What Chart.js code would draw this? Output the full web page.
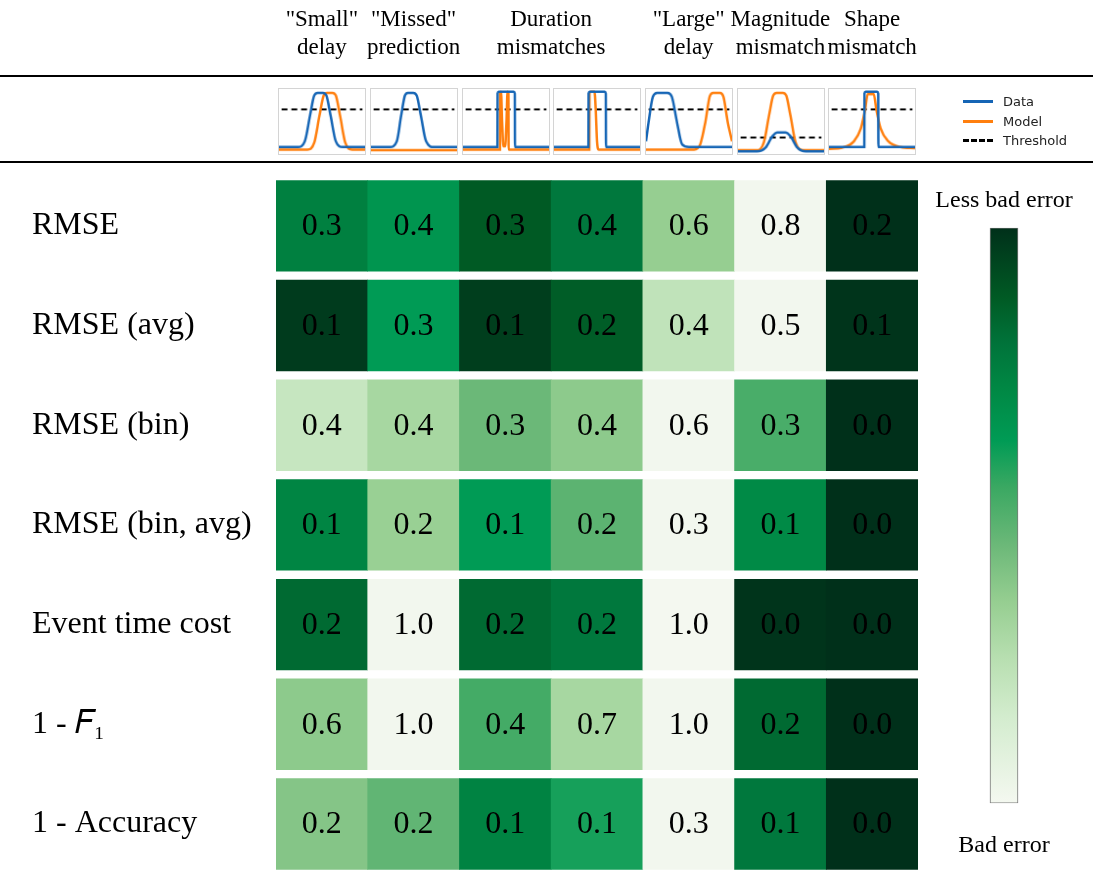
<!DOCTYPE html>
<html>
<head>
<meta charset="utf-8">
<script src="https://cdn.jsdelivr.net/npm/chart.js@4/dist/chart.umd.min.js"></script>
<style>
  body { margin: 0; background: #fff; }
  #wrap { position: relative; width: 1093px; height: 874px; overflow: hidden; }
  canvas { position: absolute; }
  .rule { position: absolute; left: 0; width: 1093px; background: #000; }
  .thumb { border: 1px solid #d4d4d4; box-sizing: border-box; }
  #legend { position: absolute; left: 963px; top: 92px; font: 13px "DejaVu Sans", sans-serif; color: #222; }
  #legend div { height: 19.5px; display: flex; align-items: center; }
  #legend span.line { display: inline-block; width: 30px; margin-right: 10px; }
</style>
</head>
<body>
<div id="wrap">
  <canvas id="heat" width="1093" height="896" style="left:0;top:0"></canvas>
  <div class="rule" style="top:75px;height:2px"></div>
  <div class="rule" style="top:161px;height:2px"></div>
  <div id="thumbs"></div>
  <div id="legend">
    <div><span class="line" style="border-top:3px solid #1565b5"></span>Data</div>
    <div><span class="line" style="border-top:3px solid #ff7f0e"></span>Model</div>
    <div><span class="line" style="border-top:3px dashed #000"></span>Threshold</div>
  </div>
  <canvas id="cbar" width="160" height="694" style="left:924px;top:180px"></canvas>
</div>
<script>
// error types (columns); "Duration mismatches" covers two columns
const errorTypes = ['Small delay', 'Missed prediction', 'Duration mismatch A', 'Duration mismatch B', 'Large delay', 'Magnitude mismatch', 'Shape mismatch'];
// header slots on half-column steps: slot 2c+1 is the centre of column c
const headerSlots = [
    '', ['"Small"', 'delay'], '', ['"Missed"', 'prediction'], '', '',
    ['Duration', 'mismatches'], '', '', ['"Large"', 'delay'], '',
    ['Magnitude', 'mismatch'], '', ['Shape', 'mismatch'], ''
];
const metrics = ['RMSE', 'RMSE (avg)', 'RMSE (bin)', 'RMSE (bin, avg)', 'Event time cost', '1 - \u{1D439}\u2081', '1 - Accuracy'];

// printed values per metric row
const rmse        = [0.3, 0.4, 0.3, 0.4, 0.6, 0.8, 0.2];
const rmseAvg     = [0.1, 0.3, 0.1, 0.2, 0.4, 0.5, 0.1];
const rmseBin     = [0.4, 0.4, 0.3, 0.4, 0.6, 0.3, 0.0];
const rmseBinAvg  = [0.1, 0.2, 0.1, 0.2, 0.3, 0.1, 0.0];
const eventCost   = [0.2, 1.0, 0.2, 0.2, 1.0, 0.0, 0.0];
const oneMinusF1  = [0.6, 1.0, 0.4, 0.7, 1.0, 0.2, 0.0];
const oneMinusAcc = [0.2, 0.2, 0.1, 0.1, 0.3, 0.1, 0.0];
const values = [rmse, rmseAvg, rmseBin, rmseBinAvg, eventCost, oneMinusF1, oneMinusAcc];

// colour level per cell (0 = bad error, 1 = less bad error)
const rmseLvl        = [0.75, 0.66, 0.88, 0.78, 0.35, 0.01, 1.00];
const rmseAvgLvl     = [0.97, 0.63, 0.96, 0.87, 0.22, 0.01, 0.99];
const rmseBinLvl     = [0.20, 0.30, 0.45, 0.37, 0.01, 0.52, 1.00];
const rmseBinAvgLvl  = [0.73, 0.34, 0.63, 0.48, 0.01, 0.71, 1.00];
const eventCostLvl   = [0.83, 0.01, 0.83, 0.78, 0.00, 0.99, 1.00];
const oneMinusF1Lvl  = [0.37, 0.01, 0.53, 0.30, 0.01, 0.83, 1.00];
const oneMinusAccLvl = [0.39, 0.47, 0.74, 0.60, 0.01, 0.78, 1.00];
const levels = [rmseLvl, rmseAvgLvl, rmseBinLvl, rmseBinAvgLvl, eventCostLvl, oneMinusF1Lvl, oneMinusAccLvl];

// thumbnail curves: [x, y] pairs on a 0..10 by 0..1 box
const smallDelayData   = [[0,0.11],[2.2,0.11],[3.0,0.2],[3.6,0.6],[4.1,0.92],[4.5,0.96],[5.1,0.96],[5.5,0.92],[6.0,0.6],[6.6,0.2],[7.4,0.11],[10,0.11]];
const smallDelayModel  = [[0,0.07],[3.3,0.07],[4.1,0.18],[4.7,0.6],[5.2,0.92],[5.6,0.96],[6.2,0.96],[6.6,0.92],[7.1,0.6],[7.7,0.18],[8.5,0.07],[10,0.07]];
const missedData       = [[0,0.11],[2.2,0.11],[3.0,0.2],[3.5,0.6],[3.95,0.92],[4.3,0.96],[4.9,0.96],[5.3,0.92],[5.8,0.6],[6.4,0.2],[7.3,0.11],[10,0.11]];
const missedModel      = [[0,0.06],[10,0.06]];
const durationAData    = [[0,0.11],[4.0,0.11],[4.02,0.95],[4.15,0.98],[5.9,0.98],[6.02,0.95],[6.04,0.11],[10,0.11]];
const durationAModel   = [[0,0.07],[4.3,0.07],[4.32,0.95],[4.42,0.98],[4.55,0.5],[4.7,0.12],[4.9,0.12],[5.05,0.5],[5.18,0.98],[5.28,0.95],[5.3,0.07],[10,0.07]];
const durationBData    = [[0,0.11],[4.0,0.11],[4.02,0.95],[4.15,0.98],[5.9,0.98],[6.02,0.95],[6.04,0.11],[10,0.11]];
const durationBModel   = [[0,0.07],[4.1,0.07],[4.12,0.95],[4.25,0.98],[4.7,0.98],[4.85,0.7],[5.0,0.2],[5.2,0.07],[10,0.07]];
const largeDelayData   = [[0,0.2],[0.3,0.5],[0.8,0.9],[1.3,0.96],[2.5,0.96],[3.0,0.9],[3.6,0.5],[4.2,0.15],[5.0,0.11],[10,0.11]];
const largeDelayModel  = [[0,0.07],[5.6,0.07],[6.3,0.15],[6.9,0.5],[7.4,0.9],[7.8,0.96],[8.6,0.96],[9.0,0.9],[9.5,0.5],[10,0.2]];
const magnitudeData    = [[0,0.04],[2.2,0.04],[3.2,0.1],[4.0,0.28],[4.6,0.34],[5.5,0.34],[6.1,0.28],[6.9,0.1],[7.9,0.04],[10,0.04]];
const magnitudeModel   = [[0,0.06],[2.2,0.06],[3.0,0.18],[3.6,0.6],[4.1,0.92],[4.5,0.96],[5.2,0.96],[5.6,0.92],[6.1,0.6],[6.7,0.18],[7.6,0.06],[10,0.06]];
const shapeData        = [[0,0.11],[4.1,0.11],[4.12,0.95],[4.25,0.98],[5.6,0.98],[5.72,0.95],[5.74,0.11],[10,0.11]];
const shapeModel       = [[0,0.08],[1.5,0.1],[2.9,0.2],[3.7,0.4],[4.2,0.7],[4.5,0.94],[5.2,0.94],[5.5,0.7],[6.0,0.4],[6.9,0.2],[8.3,0.11],[10,0.09]];
const thumbData  = [smallDelayData, missedData, durationAData, durationBData, largeDelayData, magnitudeData, shapeData];
const thumbModel = [smallDelayModel, missedModel, durationAModel, durationBModel, largeDelayModel, magnitudeModel, shapeModel];
const thresholds = [0.7, 0.7, 0.7, 0.7, 0.7, 0.26, 0.7];

const serif = '"Liberation Serif", "Times New Roman", serif';

// light -> dark green colour map
const cmapStops = [
    [0.00, [244, 248, 240]], [0.15, [211, 236, 206]], [0.25, [184, 223, 177]],
    [0.35, [150, 206, 145]], [0.45, [107, 184, 120]], [0.55, [58, 168, 98]],
    [0.63, [0, 155, 85]], [0.72, [0, 136, 68]], [0.80, [0, 115, 58]],
    [0.88, [0, 90, 36]], [1.00, [0, 48, 26]]
];

function cmap(t) {
    for (let i = 1; i < cmapStops.length; i++) {
        const [t1, c1] = cmapStops[i];
        const [t0, c0] = cmapStops[i - 1];
        if (t <= t1) {
            const f = (t - t0) / (t1 - t0);
            const c = c0.map((v, k) => Math.round(v + (c1[k] - v) * f));
            return `rgb(${c[0]}, ${c[1]}, ${c[2]})`;
        }
    }
    const c = cmapStops[cmapStops.length - 1][1];
    return `rgb(${c[0]}, ${c[1]}, ${c[2]})`;
}

// write the value in each cell
const cellText = {
    id: 'cellText',
    afterDatasetsDraw(chart) {
        const ctx = chart.ctx;
        ctx.save();
        ctx.font = `32px ${serif}`;
        ctx.fillStyle = '#000';
        ctx.textAlign = 'center';
        ctx.textBaseline = 'middle';
        chart.data.datasets.forEach((ds, r) => {
            chart.getDatasetMeta(r).data.forEach((bar, c) => {
                ctx.fillText(values[r][c].toFixed(1), bar.x, (bar.y + bar.base) / 2 + 1);
            });
        });
        ctx.restore();
    }
};

new Chart(document.getElementById('heat'), {
    type: 'bar',
    data: {
        labels: errorTypes,
        datasets: metrics.map((m, r) => ({
            label: m,
            data: values[r].map(() => [r - 0.455, r + 0.455]),
            backgroundColor: levels[r].map(cmap),
            borderWidth: 0,
            grouped: false,
            barPercentage: 1,
            categoryPercentage: 1
        }))
    },
    options: {
        responsive: false,
        animation: false,
        layout: { padding: { left: 32, right: 175, top: 0, bottom: 0 } },
        plugins: { legend: { display: false }, tooltip: { enabled: false } },
        scales: {
            x: { display: false },
            head: {
                type: 'category',
                labels: headerSlots,
                offset: false,
                position: 'top',
                grid: { display: false },
                border: { display: false },
                afterFit(scale) { scale.height = 176; },
                ticks: {
                    color: '#000',
                    padding: 106,
                    maxRotation: 0,
                    autoSkip: false,
                    font: { family: serif, size: 23, lineHeight: 1.22 }
                }
            },
            y: {
                type: 'linear',
                reverse: true,
                min: -0.5,
                max: 6.5,
                grid: { display: false },
                border: { display: false },
                afterBuildTicks(scale) { scale.ticks = metrics.map((m, i) => ({ value: i })); },
                afterFit(scale) { scale.width = 244; },
                ticks: {
                    color: '#000',
                    crossAlign: 'far',
                    font: { family: serif, size: 32 },
                    callback: v => metrics[v]
                }
            }
        }
    },
    plugins: [cellText]
});

// thumbnails above each column
const thumbs = document.getElementById('thumbs');
const colCentres = [322, 414, 506, 597, 689, 781, 872];
colCentres.forEach((cx, i) => {
    const cv = document.createElement('canvas');
    cv.width = 88;
    cv.height = 67;
    cv.className = 'thumb';
    cv.style.left = (cx - 44) + 'px';
    cv.style.top = '88px';
    thumbs.appendChild(cv);
    const toPts = arr => arr.map(([x, y]) => ({ x, y }));
    new Chart(cv, {
        type: 'line',
        data: {
            datasets: [
                { label: 'Data', data: toPts(thumbData[i]), borderColor: '#1565b5', borderWidth: 2.5 },
                { label: 'Model', data: toPts(thumbModel[i]), borderColor: '#ff7f0e', borderWidth: 2.5 },
                { label: 'Threshold', data: [{ x: 0.3, y: thresholds[i] }, { x: 9.7, y: thresholds[i] }],
                  borderColor: '#000', borderWidth: 2, borderDash: [6, 4], tension: 0 }
            ]
        },
        options: {
            responsive: false,
            animation: false,
            layout: { padding: 0 },
            elements: { point: { radius: 0 }, line: { tension: 0.35, cubicInterpolationMode: 'monotone' } },
            plugins: { legend: { display: false }, tooltip: { enabled: false } },
            scales: {
                x: { type: 'linear', min: 0, max: 10, display: false },
                y: { min: 0, max: 1.02, display: false }
            }
        }
    });
});

// colour bar
new Chart(document.getElementById('cbar'), {
    type: 'bar',
    data: {
        labels: [''],
        datasets: [{
            data: [[0, 1]],
            barThickness: 28,
            borderColor: '#777',
            borderWidth: 1,
            borderSkipped: false,
            backgroundColor(context) {
                const area = context.chart.chartArea;
                if (!area) return cmap(0.5);
                const g = context.chart.ctx.createLinearGradient(0, area.bottom, 0, area.top);
                cmapStops.forEach(([t]) => g.addColorStop(t, cmap(t)));
                return g;
            }
        }]
    },
    options: {
        responsive: false,
        animation: false,
        layout: { padding: 0 },
        plugins: {
            legend: { display: false },
            tooltip: { enabled: false },
            title: {
                display: true, text: 'Less bad error', color: '#000',
                font: { family: serif, size: 24, weight: 'normal', lineHeight: 1.2 },
                padding: { top: 6, bottom: 13 }
            },
            subtitle: {
                display: true, position: 'bottom', text: 'Bad error', color: '#000',
                font: { family: serif, size: 24, weight: 'normal', lineHeight: 1.2 },
                padding: { top: 28, bottom: 14 }
            }
        },
        scales: {
            x: { display: false },
            y: { min: 0, max: 1, display: false }
        }
    }
});
</script>
</body>
</html>
